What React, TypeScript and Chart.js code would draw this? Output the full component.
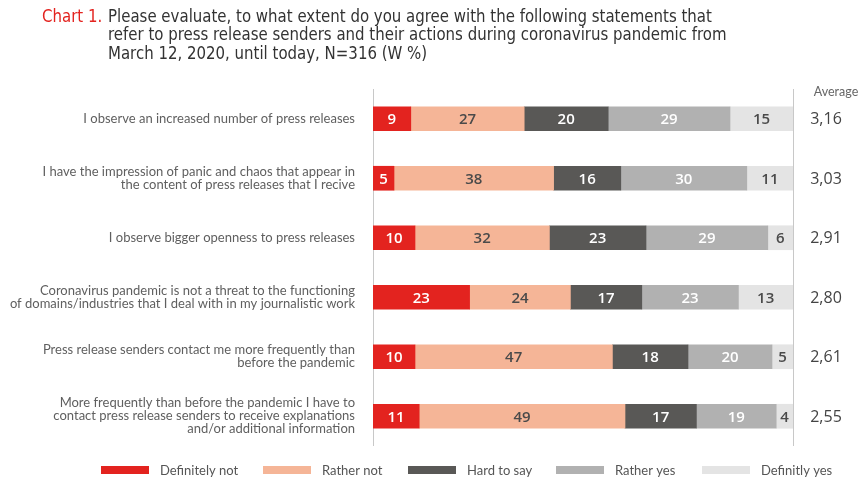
import React, { useEffect, useRef } from "react";
import { Chart, registerables } from "chart.js";

Chart.register(...registerables);

const categories: string[][] = [
  ["I observe an increased number of press releases"],
  ["I have the impression of panic and chaos that appear in", "the content of press releases that I recive"],
  ["I observe bigger openness to press releases"],
  ["Coronavirus pandemic is not a threat to the functioning", "of domains/industries that I deal with in my journalistic work"],
  ["Press release senders contact me more frequently than", "before the pandemic"],
  ["More frequently than before the pandemic I have to", "contact press release senders to receive explanations", "and/or additional information"],
];

const seriesNames = ["Definitely not", "Rather not", "Hard to say", "Rather yes", "Definitly yes"];
const definitelyNot = [9, 5, 10, 23, 10, 11];
const ratherNot = [27, 38, 32, 24, 47, 49];
const hardToSay = [20, 16, 23, 17, 18, 17];
const ratherYes = [29, 30, 29, 23, 20, 19];
const definitelyYes = [15, 11, 6, 13, 5, 4];
const averages = ["3,16", "3,03", "2,91", "2,80", "2,61", "2,55"];

const titlePrefix = "Chart 1.";
const titleLines = [
  "Please evaluate, to what extent do you agree with the following statements that",
  "refer to press release senders and their actions during coronavirus pandemic from",
  "March 12, 2020, until today, N=316 (W %)",
];

const colors = ["#E3231F", "#F5B597", "#595856", "#B1B1B1", "#E4E4E4"];
const labelColors = ["#ffffff", "#4a4a4a", "#ffffff", "#ffffff", "#4a4a4a"];
const legendX = [101, 263, 408, 556, 702];

const LABEL_FONT = 'Lato, "Open Sans", sans-serif';
const TITLE_FONT = '"Liberation Sans Narrow", "DejaVu Sans Condensed", sans-serif';
const NUM_FONT = '"Open Sans", Lato, sans-serif';

export default function App() {
  const ref = useRef<HTMLCanvasElement | null>(null);

  useEffect(() => {
    if (!ref.current) return;
    const values = [definitelyNot, ratherNot, hardToSay, ratherYes, definitelyYes];

    const extras = {
      id: "extras",
      beforeDatasetsDraw(chart: any) {
        const { ctx, chartArea, scales } = chart;
        const x = scales.x;
        ctx.save();
        ctx.strokeStyle = "#c8c8c8";
        ctx.lineWidth = 1;
        [0, 100].forEach((v) => {
          const px = Math.round(x.getPixelForValue(v)) + 0.5;
          ctx.beginPath();
          ctx.moveTo(px, chartArea.top);
          ctx.lineTo(px, chartArea.bottom);
          ctx.stroke();
        });
        ctx.restore();
      },
      afterDatasetsDraw(chart: any) {
        const { ctx, scales } = chart;
        ctx.save();
        ctx.textAlign = "center";
        ctx.textBaseline = "middle";
        chart.data.datasets.forEach((ds: any, di: number) => {
          const meta = chart.getDatasetMeta(di);
          meta.data.forEach((bar: any, i: number) => {
            const v = ds.data[i];
            const cx = (bar.x + bar.base) / 2;
            ctx.font = `600 15px ${NUM_FONT}`;
            ctx.fillStyle = labelColors[di];
            ctx.fillText(String(v), cx, bar.y + 1);
          });
        });
        // averages
        const y = scales.y;
        ctx.fillStyle = "#444";
        ctx.font = `500 16px ${NUM_FONT}`;
        averages.forEach((a, i) => {
          ctx.fillText(a, 826, y.getPixelForValue(i) + 1);
        });
        ctx.font = `12.5px ${LABEL_FONT}`;
        ctx.fillStyle = "#666";
        ctx.fillText("Average", 836, 92);

        // legend
        ctx.textAlign = "left";
        ctx.font = `13px ${LABEL_FONT}`;
        seriesNames.forEach((n, i) => {
          ctx.fillStyle = colors[i];
          ctx.fillRect(legendX[i], 466, 48, 8);
          ctx.fillStyle = "#555";
          ctx.fillText(n, legendX[i] + 59, 471);
        });

        // title (horizontally condensed)
        ctx.save();
        ctx.scale(0.925, 1);
        ctx.font = `18px ${TITLE_FONT}`;
        ctx.fillStyle = "#E3231F";
        ctx.fillText(titlePrefix, 42 / 0.925, 17);
        ctx.fillStyle = "#333";
        titleLines.forEach((t, i) => {
          ctx.fillText(t, 108 / 0.925, 17 + i * 18.5);
        });
        ctx.restore();
        ctx.restore();
      },
    };

    const chart = new Chart(ref.current, {
      type: "bar",
      data: {
        labels: categories,
        datasets: values.map((d, i) => ({
          label: seriesNames[i],
          data: d,
          backgroundColor: colors[i],
          borderWidth: 0,
          barThickness: 24,
        })),
      },
      options: {
        indexAxis: "y",
        responsive: false,
        animation: false,
        layout: { padding: { left: 0, right: 70, top: 89, bottom: 35 } },
        plugins: {
          legend: { display: false },
          tooltip: { enabled: false },
        },
        scales: {
          x: {
            stacked: true,
            min: 0,
            max: 100,
            display: false,
          },
          y: {
            stacked: true,
            grid: { display: false },
            border: { display: false },
            afterFit(scale: any) {
              scale.width = 373;
            },
            ticks: {
              padding: 10,
              color: "#5f5f5f",
              font: { family: LABEL_FONT, size: 13, lineHeight: 1.0 },
            },
          },
        },
      },
      plugins: [extras],
    } as any);
    return () => chart.destroy();
  }, []);

  return (
    <div style={{ position: "fixed", left: 0, top: 0, width: 863, height: 481, background: "#fff" }}>
      <canvas ref={ref} width={863} height={481} style={{ width: 863, height: 481 }} />
    </div>
  );
}
